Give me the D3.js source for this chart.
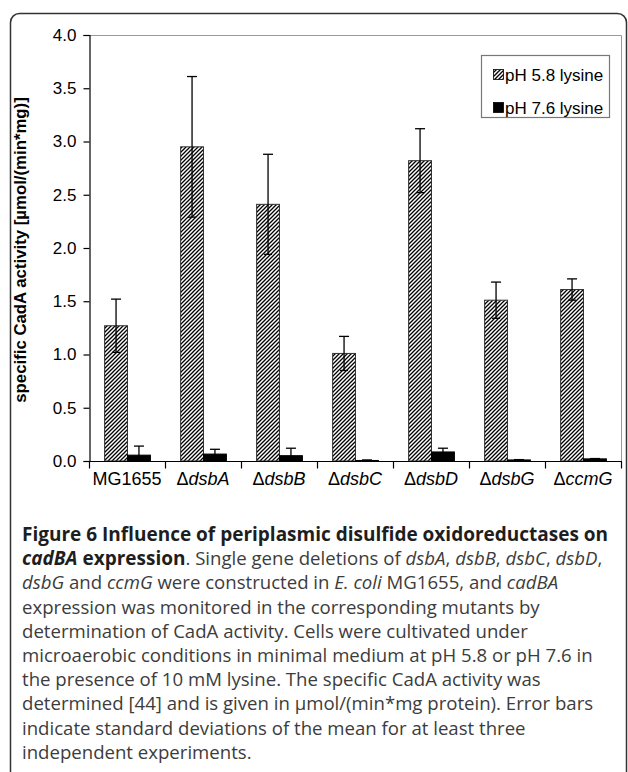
<!DOCTYPE html>
<html>
<head>
<meta charset="utf-8">
<script src="https://cdn.jsdelivr.net/npm/d3@7"></script>
<style>
  body{margin:0;background:#fff;}
  svg{display:block;}
</style>
</head>
<body>
<script>
// data
const strains=["MG1655","dsbA","dsbB","dsbC","dsbD","dsbG","ccmG"]
const ph58=[1.27,2.95,2.41,1.01,2.82,1.51,1.61]
const ph58Err=[0.25,0.66,0.47,0.16,0.30,0.17,0.10]
const ph76=[0.055,0.065,0.05,0.005,0.085,0.01,0.02]
const ph76Err=[0.085,0.045,0.07,0.005,0.035,0.003,0.003]
const yTicks=[0,0.5,1,1.5,2,2.5,3,3.5,4]
const seriesNames=["pH 5.8 lysine","pH 7.6 lysine"]

const caption=[
  [["Figure 6 Influence of periplasmic disulfide oxidoreductases on","b"]],
  [["cadBA","bi"],[" expression","b"],[". Single gene deletions of ",""],["dsbA","i"],[", ",""],["dsbB","i"],[", ",""],["dsbC","i"],[", ",""],["dsbD","i"],[",",""]],
  [["dsbG","i"],[" and ",""],["ccmG","i"],[" were constructed in ",""],["E. coli","i"],[" MG1655, and ",""],["cadBA","i"]],
  [["expression was monitored in the corresponding mutants by",""]],
  [["determination of CadA activity. Cells were cultivated under",""]],
  [["microaerobic conditions in minimal medium at pH 5.8 or pH 7.6 in",""]],
  [["the presence of 10 mM lysine. The specific CadA activity was",""]],
  [["determined [44] and is given in \u00b5mol/(min*mg protein). Error bars",""]],
  [["indicate standard deviations of the mean for at least three",""]],
  [["independent experiments.",""]]
]

const W=628,H=772
const m={left:89,right:621,top:35,bottom:461}
const font="Liberation Sans, Arial, sans-serif"

const svg=d3.select("body").append("svg")
  .attr("width",W).attr("height",H)

// hatch pattern
const defs=svg.append("defs")
const pat=defs.append("pattern").attr("id","hatch")
  .attr("patternUnits","userSpaceOnUse").attr("width",4).attr("height",4)
pat.append("rect").attr("width",4).attr("height",4).attr("fill","#fff")
pat.append("path").attr("d","M-1,1 l2,-2 M0,4 l4,-4 M3,5 l2,-2")
  .attr("stroke","#000").attr("stroke-width",1.3)

// outer frame
svg.append("rect").attr("x",10.5).attr("y",13.5).attr("width",616).attr("height",820)
  .attr("rx",9).attr("fill","none").attr("stroke","#333").attr("stroke-width",1.5)

// scales
const x=d3.scaleBand().domain(strains).range([m.left,m.right])
const xs=d3.scaleBand().domain([0,1]).range([0,x.bandwidth()]).paddingOuter(0.66).paddingInner(0)
const y=d3.scaleLinear().domain([0,4]).range([m.bottom,m.top])

// plot border (top/right)
svg.append("path").attr("d",`M${m.left},${m.top+0.5}H${m.right+0.5}V${m.bottom}`)
  .attr("fill","none").attr("stroke","#999").attr("stroke-width",1)

const data=strains.map((s,i)=>({s,vals:[ph58[i],ph76[i]],errs:[ph58Err[i],ph76Err[i]]}))

const g=svg.selectAll(".grp").data(data).enter().append("g")
  .attr("transform",d=>`translate(${x(d.s)},0)`)

g.selectAll("rect").data(d=>d.vals.map((v,k)=>({v,k}))).enter().append("rect")
  .attr("x",d=>xs(d.k)+0.5).attr("y",d=>y(d.v))
  .attr("width",xs.bandwidth()).attr("height",d=>y(0)-y(d.v))
  .attr("fill",d=>d.k===0?"url(#hatch)":"#000")
  .attr("stroke",d=>d.k===0?"#333":"#000").attr("stroke-width",1)

// error bars
const eb=g.selectAll(".err").data(d=>d.vals.map((v,k)=>({v,k,e:d.errs[k]}))).enter().append("g")
eb.append("line")
  .attr("x1",d=>xs(d.k)+xs.bandwidth()/2+0.5).attr("x2",d=>xs(d.k)+xs.bandwidth()/2+0.5)
  .attr("y1",d=>y(d.v+d.e)).attr("y2",d=>y(Math.max(0,d.v-d.e)))
eb.append("line")
  .attr("x1",d=>xs(d.k)+xs.bandwidth()/2-4.5).attr("x2",d=>xs(d.k)+xs.bandwidth()/2+5.5)
  .attr("y1",d=>y(d.v+d.e)).attr("y2",d=>y(d.v+d.e))
eb.append("line")
  .attr("x1",d=>xs(d.k)+xs.bandwidth()/2-3.5).attr("x2",d=>xs(d.k)+xs.bandwidth()/2+4.5)
  .attr("y1",d=>y(Math.max(0,d.v-d.e))).attr("y2",d=>y(Math.max(0,d.v-d.e)))
eb.selectAll("line").attr("stroke","#000").attr("stroke-width",1.3)

// y axis
const yAxis=d3.axisLeft(y).tickValues(yTicks).tickFormat(d3.format(".1f")).tickSize(6).tickPadding(7)
svg.append("g").attr("transform",`translate(${m.left+0.5},0)`).call(yAxis)
  .call(a=>a.selectAll("text").attr("font-size",17).attr("font-family",font).attr("fill","#000"))
  .call(a=>a.selectAll("line,path").attr("stroke","#000").attr("stroke-width",1.2))

// x axis: ticks at category boundaries
const xAxis=svg.append("g").attr("transform",`translate(0,${m.bottom+0.5})`)
xAxis.append("line").attr("x1",m.left).attr("x2",m.right+1).attr("stroke","#000").attr("stroke-width",1.2)
xAxis.selectAll(".bt").data(strains.concat([null])).enter().append("line")
  .attr("x1",(d,i)=>m.left+i*x.step()+0.5).attr("x2",(d,i)=>m.left+i*x.step()+0.5)
  .attr("y1",0).attr("y2",7).attr("stroke","#000").attr("stroke-width",1.2)
const xl=xAxis.selectAll(".lab").data(strains).enter().append("text")
  .attr("x",d=>x(d)+x.bandwidth()/2).attr("y",23)
  .attr("text-anchor","middle").attr("font-size",18)
  .attr("font-family",font)
xl.each(function(d,i){
  const t=d3.select(this)
  if(i===0){t.text(d)}
  else{
    t.append("tspan").text("\u0394")
    t.append("tspan").attr("font-style","italic").text(d)
  }
})

// y axis title
svg.append("text").attr("transform",`translate(26,250) rotate(-90)`)
  .attr("text-anchor","middle").attr("font-weight","bold").attr("font-size",16.8)
  .attr("font-family",font)
  .text("specific CadA activity [\u00b5mol/(min*mg)]")

// legend
const lg=svg.append("g").attr("transform","translate(481,55)")
lg.append("rect").attr("x",0.5).attr("y",0.5).attr("width",128).attr("height",62)
  .attr("fill","#fff").attr("stroke","#777").attr("stroke-width",1.2)
const li=lg.selectAll(".li").data(seriesNames).enter().append("g")
  .attr("transform",(d,i)=>`translate(12,${14+i*33})`)
li.append("rect").attr("width",10).attr("height",10).attr("x",0.5).attr("y",0.5)
  .attr("fill",(d,i)=>i===0?"url(#hatch)":"#000").attr("stroke","#000").attr("stroke-width",0.8)
li.append("text").attr("x",12).attr("y",11.5).attr("font-size",17)
  .attr("font-family",font).text(d=>d)

// caption
const cap=svg.append("g").attr("font-family","Open Sans, sans-serif").attr("font-size",18.6)
caption.forEach((line,i)=>{
  const t=cap.append("text").attr("x",22).attr("y",541+i*24.2).attr("fill","#3c3c3c")
  line.forEach(([txt,st])=>{
    const sp=t.append("tspan").text(txt)
    if(st.includes("b")) sp.attr("font-weight","bold").attr("fill","#1e1e1e").attr("font-size",19)
    if(st.includes("i")) sp.attr("font-style","italic")
  })
})
</script>
</body>
</html>
